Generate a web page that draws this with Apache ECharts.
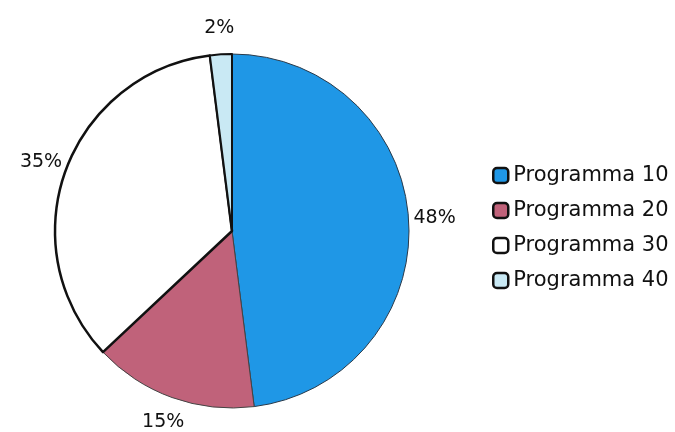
<!DOCTYPE html>
<html>
<head>
<meta charset="utf-8">
<script src="https://cdn.jsdelivr.net/npm/echarts@6/dist/echarts.min.js"></script>
<style>
html,body{margin:0;padding:0;background:#fff;}
#chart{width:675px;height:432px;}
</style>
</head>
<body>
<div id="chart"></div>
<script>
var categories = ['Programma 10', 'Programma 20', 'Programma 30', 'Programma 40'];
var values = [48, 15, 35, 2];
var colors = ['#1f97e6', '#c0627a', '#ffffff', '#c9e9f4'];
var borderWidths = [1, 1, 2.5, 2];
var borderColors = ['#2a3a4a', '#444444', '#111111', '#111111'];

var CX = 232, CY = 231, R = 177, LABEL_DIST = 203;
var total = values.reduce(function (a, b) { return a + b; }, 0);
var midAngles = [];
(function () {
  var acc = 0;
  values.forEach(function (v) {
    midAngles.push((acc + v / 2) / total * 2 * Math.PI);
    acc += v;
  });
})();

var data = categories.map(function (c, i) {
  return {
    name: c,
    value: values[i],
    itemStyle: { color: colors[i], borderColor: borderColors[i], borderWidth: borderWidths[i] }
  };
});

var chart = echarts.init(document.getElementById('chart'));
chart.setOption({
  backgroundColor: '#ffffff',
  animation: false,
  legend: {
    orient: 'vertical',
    left: 487,
    top: 160,
    itemWidth: 15,
    itemHeight: 15,
    itemGap: 14,
    icon: 'roundRect',
    itemStyle: { borderColor: '#111', borderWidth: 2.5 },
    textStyle: { fontFamily: 'DejaVu Sans, sans-serif', fontSize: 21, color: '#111' },
    data: categories
  },
  series: [{
    type: 'pie',
    center: [CX, CY],
    radius: R,
    startAngle: 90,
    clockwise: true,
    avoidLabelOverlap: false,
    data: data,
    label: {
      show: true,
      position: 'outside',
      formatter: function (p) { return Math.round(p.percent) + '%'; },
      fontFamily: 'DejaVu Sans, sans-serif',
      fontSize: 19,
      color: '#111'
    },
    labelLine: { show: false, length: 8, length2: 0 },
    labelLayout: function (params) {
      var a = midAngles[params.dataIndex];
      return {
        x: CX + LABEL_DIST * Math.sin(a),
        y: CY - LABEL_DIST * Math.cos(a),
        align: 'center',
        verticalAlign: 'middle'
      };
    },
    emphasis: { disabled: true }
  }]
});
</script>
</body>
</html>
